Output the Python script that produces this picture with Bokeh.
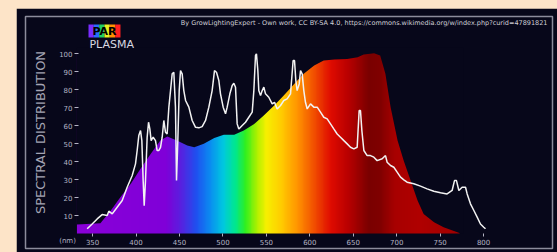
import numpy as np
from bokeh.plotting import figure
from bokeh.models import FixedTicker, Label, Range1d
from bokeh.embed import file_html
from bokeh.resources import INLINE

# ---- data ----------------------------------------------------------------
# plasma lamp spectrum (white line): wavelength (nm) and relative intensity (%)
wl_nm = [343.8, 349.5, 355.3, 361.0, 366.8, 368.7, 372.6, 378.3, 384.1, 389.8,
         395.6, 399.4, 401.3, 403.2, 405.2, 406.7, 408.2, 409.4, 410.9, 412.8,
         414.4, 415.9, 417.4, 419.7, 422.4, 424.3, 426.3, 428.2, 430.1, 432.0,
         433.9, 435.8, 437.8, 439.7, 441.6, 443.5, 445.4, 446.6, 448.1, 449.7,
         451.2, 453.1, 455.0, 457.0, 460.8, 464.6, 468.5, 472.3, 476.1, 480.0,
         483.8, 487.6, 490.3, 492.6, 495.3, 497.2, 500.3, 503.0, 504.9, 508.0,
         510.7, 512.6, 514.5, 516.4, 518.3, 522.2, 526.0, 529.8, 533.7, 535.6,
         537.5, 538.6, 540.2, 541.3, 543.3, 545.2, 547.1, 549.0, 552.8, 556.7,
         559.4, 562.4, 566.3, 570.1, 573.9, 577.8, 580.8, 582.4, 583.9, 585.4,
         587.8, 589.3, 591.2, 593.1, 595.0, 597.0, 600.8, 604.6, 608.5, 612.3,
         616.1, 620.0, 623.8, 627.6, 631.5, 635.3, 639.2, 643.0, 646.8, 650.7,
         654.5, 656.8, 658.3, 659.9, 662.2, 666.0, 669.8, 673.7, 677.5, 683.3,
         687.1, 689.0, 692.9, 696.7, 700.5, 704.4, 708.2, 712.0, 719.7, 727.4,
         735.0, 742.7, 750.4, 758.0, 763.8, 766.5, 768.8, 771.5, 775.3, 779.2,
         781.1, 784.9, 788.8, 792.6, 796.4, 800.2, 802.2]
spd = [2.6, 5.3, 8.1, 10.5, 10.0, 12.4, 10.9, 14.6, 18.3, 25.7,
       32.2, 38.7, 46.1, 54.4, 57.2, 51.6, 29.4, 15.5, 29.4, 53.5,
       61.8, 58.1, 51.6, 53.5, 51.6, 46.1, 46.1, 47.9, 53.5, 62.8,
       56.3, 55.3, 70.2, 79.4, 88.7, 89.6, 70.2, 29.4, 51.6, 79.4,
       90.5, 88.7, 79.4, 73.9, 70.2, 62.8, 59.0, 58.7, 59.4, 62.8,
       70.2, 79.4, 90.5, 89.6, 85.0, 77.6, 70.2, 66.5, 70.2, 77.6,
       82.2, 83.5, 81.3, 60.9, 58.1, 60.0, 61.8, 64.6, 67.4, 79.4,
       98.9, 99.8, 90.5, 79.4, 76.6, 79.4, 81.3, 77.6, 75.7, 72.0,
       72.9, 69.2, 71.1, 73.9, 74.8, 77.6, 96.1, 96.1, 85.0, 79.4,
       83.1, 90.5, 88.7, 79.4, 72.9, 69.2, 72.0, 70.2, 70.2, 67.4,
       64.6, 63.7, 60.9, 58.1, 55.3, 53.5, 51.6, 49.8, 47.9, 47.0,
       47.9, 68.3, 68.3, 57.2, 46.1, 43.3, 43.3, 42.4, 40.5, 41.5,
       43.3, 39.6, 37.8, 36.8, 34.1, 31.3, 29.8, 28.5, 27.6, 26.3,
       24.8, 23.5, 22.6, 22.0, 23.9, 29.4, 29.4, 23.9, 25.7, 25.7,
       22.0, 16.5, 12.8, 9.1, 5.3, 3.5, 2.6]

# coloured reference area (outline of its top edge)
area_nm = [332, 359, 371, 382, 394, 405, 417, 428, 436, 447, 459, 467, 478, 490,
           501, 513, 524, 536, 547, 559, 570, 582, 593, 605, 616, 628, 643, 655,
           662, 674, 681, 687, 693, 701, 708, 716, 724, 731, 743, 754, 773]
area_val = [5.0, 5.7, 12.8, 20.2, 27.6, 35.9, 44.3, 51.7, 53.9, 51.7, 48.9, 47.9,
            49.8, 53.0, 54.8, 54.8, 57.2, 60.9, 65.6, 71.1, 76.7, 83.1, 88.7, 93.3,
            96.1, 96.7, 97.0, 97.9, 99.4, 100.2, 98.9, 88.7, 70.2, 51.7, 40.6, 29.4,
            18.3, 10.9, 6.3, 3.5, 0.2]

x_ticks = [350, 400, 450, 500, 550, 600, 650, 700, 750, 800]
y_ticks = [10, 20, 30, 40, 50, 60, 70, 80, 90, 100]

# colour ramp of the area (style)
stop_nm = [333, 434, 451, 469, 486, 500, 514, 526, 539, 550, 566, 587, 607, 624,
           645, 668, 681, 698, 727, 774]
stop_col = ["#8a00d8", "#8000d8", "#5a20e0", "#2050f0", "#0a90f0", "#00c8e0",
            "#00e890", "#30f020", "#b0f000", "#f8f000", "#ffd000", "#ff9000",
            "#f04800", "#e00c00", "#b80000", "#7a0000", "#800000", "#a80000",
            "#b00000", "#a00000"]

BG = "#07071a"
TXT = "#b4b4c4"
FONT = "DejaVu Sans"

p = figure(width=541, height=244, x_range=Range1d(272.8, 879.3), y_range=Range1d(-8.33, 120.56),
           output_backend="svg", toolbar_location=None,
           min_border_left=9, min_border_right=5, min_border_top=8, min_border_bottom=4,
           background_fill_color=BG, border_fill_color=BG,
           outline_line_color="#8c8c9c", outline_line_width=1.5)
p.grid.visible = False

# gradient band, masked above the area outline
x0, x1 = area_nm[0], area_nm[-1]
cols = np.linspace(x0, x1, 441)
rgb = np.array([[int(c[i:i + 2], 16) for i in (1, 3, 5)] for c in stop_col], dtype=float)
img = np.empty((1, cols.size), dtype=np.uint32)
view = img.view(dtype=np.uint8).reshape((1, cols.size, 4))
for k in range(3):
    view[0, :, k] = np.interp(cols, stop_nm, rgb[:, k]).astype(np.uint8)
view[0, :, 3] = 255
top = max(area_val)
p.image_rgba(image=[img], x=x0, y=0, dw=x1 - x0 - 0.6, dh=top + 1)
p.varea(x=area_nm + [x1 + 4], y1=area_val + [area_val[-1]], y2=top + 3, fill_color=BG)

# lamp spectrum
p.line(wl_nm, spd, line_color="#f2f2f2", line_width=1.5)

# axes drawn inside the framed panel
for ax in (p.xaxis, p.yaxis):
    ax.axis_line_color = None
    ax.major_tick_line_color = TXT
    ax.major_tick_in = 0
    ax.minor_tick_line_color = None
    ax.major_label_text_color = TXT
    ax.major_label_text_font = FONT
    ax.major_label_text_font_size = "7px"
p.xaxis.ticker = FixedTicker(ticks=x_ticks)
p.yaxis.ticker = FixedTicker(ticks=y_ticks)
p.xaxis.fixed_location = 0
p.yaxis.fixed_location = 333.8
p.xaxis.major_tick_out = 3
p.xaxis.major_label_standoff = 2
p.yaxis.major_tick_out = 4
p.yaxis.major_label_standoff = 2
p.yaxis.axis_label = "SPECTRAL DISTRIBUTION"
p.yaxis.axis_label_text_font = FONT
p.yaxis.axis_label_text_font_size = "13px"
p.yaxis.axis_label_text_font_style = "normal"
p.yaxis.axis_label_text_color = "#a4a4b4"
p.yaxis.axis_label_standoff = 8

p.add_layout(Label(x=321.2, y=-4.4, text="(nm)", text_align="center", text_baseline="middle",
                   text_color=TXT, text_font=FONT, text_font_size="7px"))

# credit line
p.add_layout(Label(x=873.5, y=117.2, text="By GrowLightingExpert - Own work, CC BY-SA 4.0, "
                   "https://commons.wikimedia.org/w/index.php?curid=47891821",
                   text_align="right", text_baseline="middle", text_color="#d0d0d8",
                   text_font=FONT, text_font_size="6.5px"))

# logo
logo_cols = ["#7a2cff", "#2a6cff", "#20d060", "#e8f020", "#ff9000", "#ff2020"]
lx0, lx1 = 345.3, 382.1
edges = np.linspace(lx0, lx1, len(logo_cols) + 1)
p.quad(left=edges[:-1], right=edges[1:], bottom=108.9, top=116.1, fill_color=logo_cols,
       line_color=None)
p.add_layout(Label(x=(lx0 + lx1) / 2, y=112.5, text="PAR", text_align="center",
                   text_baseline="middle", text_color="#000000", text_font=FONT,
                   text_font_size="11px", text_font_style="bold"))
p.add_layout(Label(x=346.4, y=105.0, text="PLASMA", text_align="left",
                   text_baseline="middle", text_color="#d8d8e0", text_font=FONT,
                   text_font_size="11px"))

html = file_html(p, INLINE)
html = html.replace("</head>", "<style>html,body{background:#fde4c8;overflow:hidden}"
                    "body{margin:8px 0 0 16px}</style></head>", 1)
open("out.html", "w").write(html)
